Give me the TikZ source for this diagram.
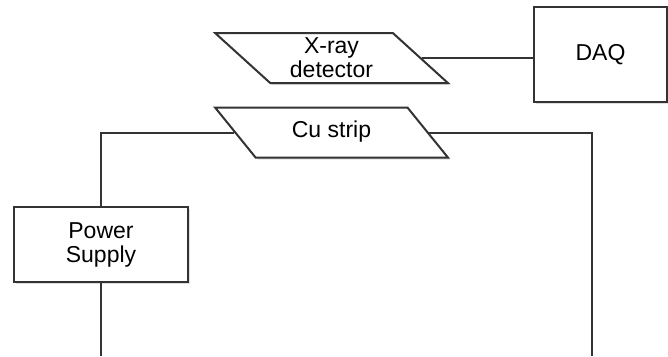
\documentclass[tikz,border=0pt]{standalone}
\usepackage{fontspec}
\setmainfont{Liberation Sans}
\usetikzlibrary{positioning,shapes.geometric,shadows}
\definecolor{wire}{gray}{0.2}

\begin{document}
\begin{tikzpicture}[x=1pt,y=-1pt,
  sh/.style={drop shadow={shadow xshift=2pt,shadow yshift=-2pt,opacity=.25}},
  box/.style={draw=wire,line width=2pt,fill=white,sh,align=center,inner sep=0pt,
    font=\fontsize{23}{24}\selectfont},
  par/.style={box,trapezium,trapezium left angle=133,trapezium right angle=47,
    trapezium stretches=true,minimum width=233pt,minimum height=50pt},
  ln/.style={draw=wire,line width=2pt}
]
\useasboundingbox (0,0) rectangle (668,356);
% instruments
\node[box,minimum width=133pt,minimum height=95pt] (daq) at (600.5,54.5) {DAQ};
\node[par] (det) at (331.5,58) {X-ray\\detector};
\node[par] (cu) at (331.5,132.5) {\raisebox{6pt}{Cu strip}};
\node[box,minimum width=174pt,minimum height=75pt] (ps) at (101,244.5) {Power\\Supply};
\coordinate (gl) at (101,356);
\coordinate (gr) at (592,356);
% wiring
\draw[ln] (det.east) -- (det.east -| daq.west);
\draw[ln] (cu.west) -| (ps.north);
\draw[ln] (ps.south) -- (gl);
\draw[ln] (cu.east) -| (gr);
\end{tikzpicture}
\end{document}
